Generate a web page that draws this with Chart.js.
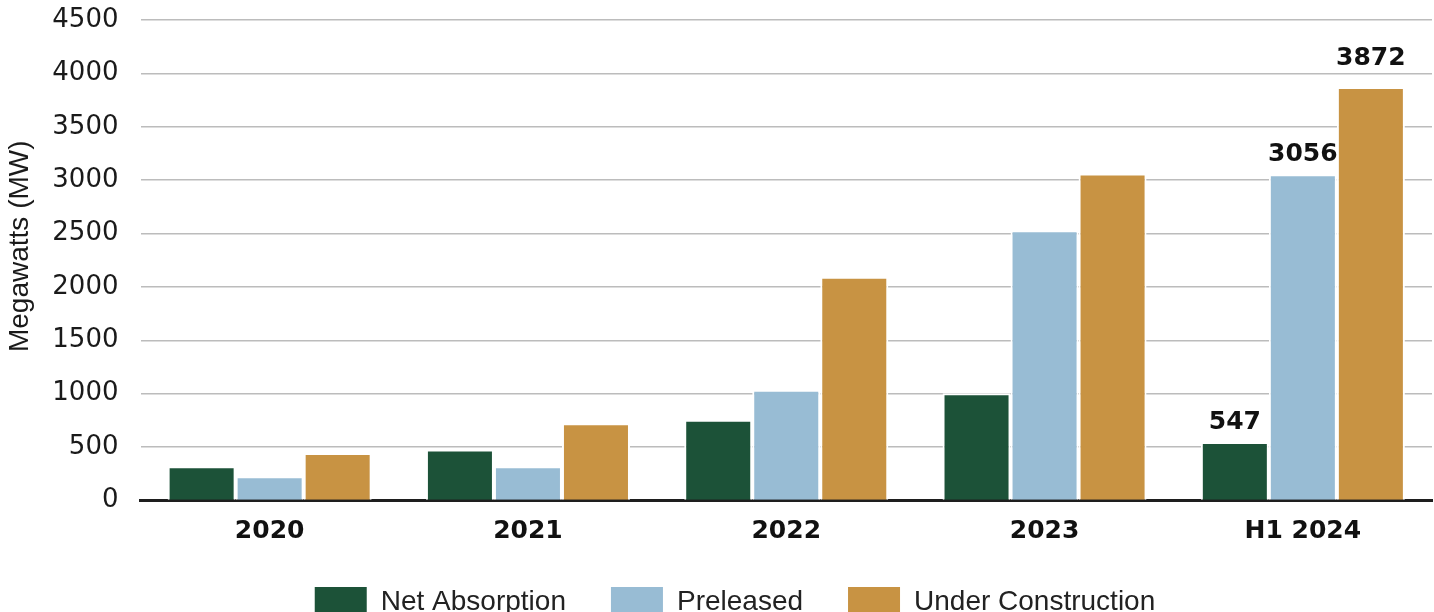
<!DOCTYPE html>
<html>
<head>
<meta charset="utf-8">
<script src="https://cdn.jsdelivr.net/npm/chart.js@4.4.1/dist/chart.umd.min.js"></script>
<style>
  html, body { margin: 0; padding: 0; background: #fff; overflow: hidden; }
  #wrap { position: relative; width: 1434px; height: 627px; }
</style>
</head>
<body>
<div id="wrap"><canvas id="c"></canvas></div>
<script>
const categories = ['2020', '2021', '2022', '2023', 'H1 2024'];
const netAbsorption = [321, 477, 757, 1004, 547];
const preleased = [227, 321, 1038, 2530, 3056];
const underConstruction = [445, 724, 2096, 3062, 3872];
const seriesNames = ['Net Absorption', 'Preleased', 'Under Construction'];
const yTicks = [0, 500, 1000, 1500, 2000, 2500, 3000, 3500, 4000, 4500];
const yAxisTitle = 'Megawatts (MW)';
const labeledCategory = 'H1 2024';

const colors = ['#1c5238', '#98bcd4', '#c89343'];
const labelGaps = [13, 13, 22];

const valueLabels = {
  id: 'valueLabels',
  afterDatasetsDraw(chart) {
    const ctx = chart.ctx;
    const idx = chart.data.labels.indexOf(labeledCategory);
    ctx.save();
    ctx.font = 'bold 25px "DejaVu Sans"';
    ctx.fillStyle = '#111';
    ctx.textAlign = 'center';
    ctx.textBaseline = 'alphabetic';
    chart.data.datasets.forEach((ds, di) => {
      const meta = chart.getDatasetMeta(di);
      const el = meta.data[idx];
      if (!el) return;
      ctx.fillText(String(ds.data[idx]), el.x, el.y - labelGaps[di]);
    });
    ctx.restore();
  }
};

const axisTitle = {
  id: 'axisTitle',
  afterDraw(chart) {
    const ctx = chart.ctx;
    const a = chart.chartArea;
    ctx.save();
    ctx.translate(20, (a.top + a.bottom) / 2 - 14);
    ctx.rotate(-Math.PI / 2);
    ctx.font = '28px "Liberation Sans", Arial, sans-serif';
    ctx.fillStyle = '#1a1a1a';
    ctx.textAlign = 'center';
    ctx.textBaseline = 'middle';
    ctx.fillText(yAxisTitle, 0, 0);
    ctx.restore();
  }
};

const legendShift = {
  id: 'legendShift',
  afterLayout(chart) {
    if (chart.legend) {
      chart.legend.left += 19;
      chart.legend.right += 19;
    }
  }
};

const mk = (i, data) => ({
  label: seriesNames[i],
  data: data,
  backgroundColor: colors[i],
  borderColor: '#ffffff',
  borderWidth: 2,
  categoryPercentage: 0.79,
  barPercentage: 1.0
});

new Chart(document.getElementById('c'), {
  type: 'bar',
  data: {
    labels: categories,
    datasets: [mk(0, netAbsorption), mk(1, preleased), mk(2, underConstruction)]
  },
  options: {
    responsive: true,
    maintainAspectRatio: false,
    animation: false,
    layout: { padding: { top: 20, left: 0, right: 2, bottom: 0 } },
    plugins: {
      tooltip: { enabled: false },
      legend: {
        position: 'bottom',
        labels: {
          font: { family: '"Liberation Sans", Arial, sans-serif', size: 28 },
          color: '#222',
          boxWidth: 52,
          boxHeight: 30,
          padding: 45,
          generateLabels(chart) {
            const items = Chart.defaults.plugins.legend.labels.generateLabels(chart);
            items.forEach(it => { it.lineWidth = 0; it.strokeStyle = 'rgba(0,0,0,0)'; });
            return items;
          }
        }
      }
    },
    scales: {
      x: {
        z: 1,
        grid: { display: false, drawTicks: false },
        border: { display: true, color: '#1e1e1e', width: 3 },
        ticks: {
          font: { family: '"DejaVu Sans"', size: 25, weight: 'bold' },
          color: '#111',
          padding: 16
        },
        afterFit(scale) { scale.height = 41.5; scale.paddingTop = 0; scale.paddingBottom = 0; }
      },
      y: {
        min: 0,
        max: 4500,
        afterBuildTicks(scale) { scale.ticks = yTicks.map(v => ({ value: v })); },
        grid: { color: '#bcbcbc', lineWidth: 1.5, drawTicks: false },
        border: { display: false },
        ticks: {
          font: { family: '"DejaVu Sans"', size: 26 },
          color: '#1a1a1a',
          padding: 22,
          callback: (v) => String(v)
        },
        title: { display: false },
        afterFit(scale) { scale.width = 140.5; scale.paddingTop = 0; scale.paddingBottom = 0; }
      }
    }
  },
  plugins: [valueLabels, axisTitle, legendShift]
});
</script>
</body>
</html>
